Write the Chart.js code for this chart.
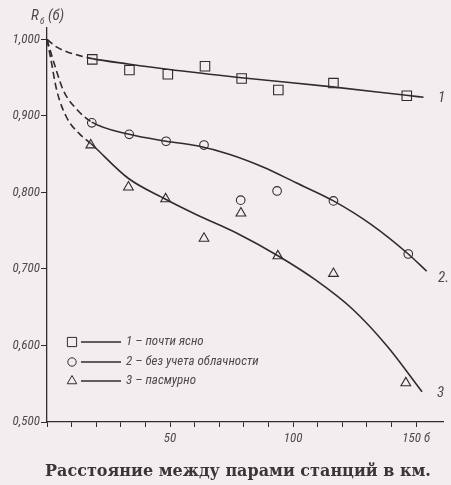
<!DOCTYPE html>
<html><head><meta charset="utf-8">
<script src="https://cdn.jsdelivr.net/npm/chart.js@4"></script>
<style>
html,body{margin:0;padding:0;background:#f3edef;}
#wrap{width:451px;height:485px;position:relative;}
</style>
</head><body>
<div id="wrap"><canvas id="c"></canvas></div>
<script>
// measured points (distance km, R)
const sqX = [18.4, 33.5, 49.1, 64.2, 79.1, 94.0, 116.4, 146.2];
const sqY = [0.974, 0.960, 0.9545, 0.965, 0.949, 0.934, 0.943, 0.9265];
const ciX = [18.2, 33.4, 48.4, 63.8, 78.7, 93.5, 116.4, 146.8];
const ciY = [0.891, 0.876, 0.867, 0.862, 0.790, 0.802, 0.789, 0.7196];
const trX = [17.8, 33.1, 48.2, 63.8, 78.8, 93.8, 116.4, 145.8];
const trY = [0.862, 0.807, 0.7915, 0.740, 0.773, 0.717, 0.694, 0.551];

// drawn curves (dashed part up to ~18 km)
const c1X = [0, 4, 8, 12, 18.4, 33, 49, 79, 116, 146, 153];
const c1Y = [1.000, 0.990, 0.984, 0.980, 0.975, 0.968, 0.961, 0.950, 0.938, 0.927, 0.9245];
const c2X = [0, 3.4, 6.7, 12, 18.2, 33.4, 48.4, 61, 74, 88, 101, 116.4, 131.8, 146.8, 154.3];
const c2Y = [1.000, 0.9636, 0.933, 0.909, 0.892, 0.876, 0.867, 0.861, 0.850, 0.833, 0.813, 0.789, 0.758, 0.7196, 0.697];
const c3X = [0, 1.4, 4, 8, 13.4, 17.8, 33, 48, 61, 77, 94, 109, 124, 138, 152.4];
const c3Y = [1.000, 0.977, 0.933, 0.898, 0.876, 0.864, 0.8186, 0.7915, 0.7706, 0.747, 0.717, 0.686, 0.648, 0.600, 0.5396];

const seriesNames = ['1 – почти ясно', '2 – без учета облачности', '3 – пасмурно'];
const curveTags = ['1', '2.', '3'];
const yTicks = [0.5, 0.6, 0.7, 0.8, 0.9, 1.0];
const caption = 'Расстояние между парами станций в км.';

const INK = '#2f2c2d', TXT = '#4d4a4b', BG = '#f3edef';
const NARROW = '"Liberation Sans Narrow","Roboto Condensed","DejaVu Sans Condensed",Roboto,sans-serif';

const pts = (xs, ys) => xs.map((x, i) => ({x, y: ys[i]}));
const curve = (xs, ys) => ({
  type: 'line', data: pts(xs, ys), borderColor: INK, borderWidth: 1.6,
  pointRadius: 0, cubicInterpolationMode: 'monotone', fill: false,
  segment: { borderDash: ctx => ctx.p1.parsed.x <= 18.5 ? [7, 4] : undefined }
});
const marks = (xs, ys, style, r) => ({
  type: 'scatter', data: pts(xs, ys), pointStyle: style, pointRadius: r,
  pointBackgroundColor: BG, pointBorderColor: INK, pointBorderWidth: 1.1
});

function sym(ctx, style, x, y, r){
  ctx.beginPath();
  if(style==='rect'){ const h = r*Math.SQRT1_2; ctx.rect(x-h, y-h, 2*h, 2*h); }
  else if(style==='circle'){ ctx.arc(x, y, r, 0, Math.PI*2); }
  else { ctx.moveTo(x, y-r); ctx.lineTo(x+r*0.866, y+r*0.5); ctx.lineTo(x-r*0.866, y+r*0.5); ctx.closePath(); }
  ctx.fillStyle = BG; ctx.fill(); ctx.strokeStyle = INK; ctx.lineWidth = 1; ctx.stroke();
}

const annot = {
  id: 'annot',
  afterDraw(chart){
    const {ctx, scales:{x, y}} = chart;
    ctx.save();
    // y axis title R_б (б)
    ctx.fillStyle = TXT; ctx.textBaseline = 'alphabetic'; ctx.textAlign = 'left';
    ctx.font = 'italic 15px ' + NARROW; ctx.fillText('R', 31, 20);
    ctx.font = 'italic 9px ' + NARROW; ctx.fillText('б', 40, 24);
    ctx.font = 'italic 15px ' + NARROW; ctx.fillText('(б)', 48, 20);
    // curve tags
    ctx.font = 'italic 15px ' + NARROW; ctx.textBaseline = 'middle';
    ctx.fillText(curveTags[0], 438, y.getPixelForValue(0.9235));
    ctx.fillText(curveTags[1], 438, y.getPixelForValue(0.688));
    ctx.fillText(curveTags[2], 437, y.getPixelForValue(0.537));
    // legend
    const styles = [['rect', 6.5], ['circle', 4.2], ['triangle', 5.5]];
    const rows = [342, 362, 381];
    ctx.font = 'italic 13px ' + NARROW;
    seriesNames.forEach((n, i) => {
      sym(ctx, styles[i][0], 72, rows[i], styles[i][1]);
      ctx.beginPath(); ctx.moveTo(81, rows[i]); ctx.lineTo(121, rows[i]);
      ctx.strokeStyle = INK; ctx.lineWidth = 1.3; ctx.stroke();
      ctx.fillStyle = TXT; ctx.fillText(n, 126, rows[i]);
    });
    // caption
    ctx.font = 'bold 16px "DejaVu Serif","Liberation Serif",serif';
    ctx.textAlign = 'center'; ctx.fillStyle = '#3a3536';
    ctx.fillText(caption, 238, 472);
    ctx.restore();
  }
};

new Chart(document.getElementById('c'), {
  data: { datasets: [
    curve(c1X, c1Y), curve(c2X, c2Y), curve(c3X, c3Y),
    marks(sqX, sqY, 'rect', 6.7), marks(ciX, ciY, 'circle', 4.3), marks(trX, trY, 'triangle', 5.6)
  ]},
  options: {
    responsive: true, maintainAspectRatio: false, animation: false,
    layout: { padding: { top: 28, right: 4, left: 0, bottom: 0 } },
    plugins: { legend: { display: false }, tooltip: { enabled: false } },
    scales: {
      x: {
        type: 'linear', min: 0, max: 161,
        afterBuildTicks: s => { s.ticks = s.ticks.filter(t => t.value % 10 === 0 && t.value <= 150); },
        afterFit: s => { s.height = 63; },
        ticks: { stepSize: 10, autoSkip: false, maxRotation: 0, padding: 4, color: TXT,
          font: { family: NARROW, size: 13, style: 'italic' },
          callback: v => v === 150 ? '150 б' : (v > 0 && v % 50 === 0 ? String(v) : '') },
        grid: { drawOnChartArea: false, tickLength: 5, color: INK },
        border: { color: INK, width: 1.3 }
      },
      y: {
        type: 'linear', min: 0.5, max: 1.015,
        afterBuildTicks: s => { s.ticks = yTicks.map(v => ({value: v})); },
        afterFit: s => { s.width = 47; },
        ticks: { padding: 1, color: TXT, font: { family: NARROW, size: 13, style: 'italic' },
          callback: v => v.toFixed(3).replace('.', ',') },
        grid: { drawOnChartArea: false, tickLength: 6, color: INK },
        border: { color: INK, width: 1.3 }
      }
    }
  },
  plugins: [annot]
});
</script>
</body></html>
